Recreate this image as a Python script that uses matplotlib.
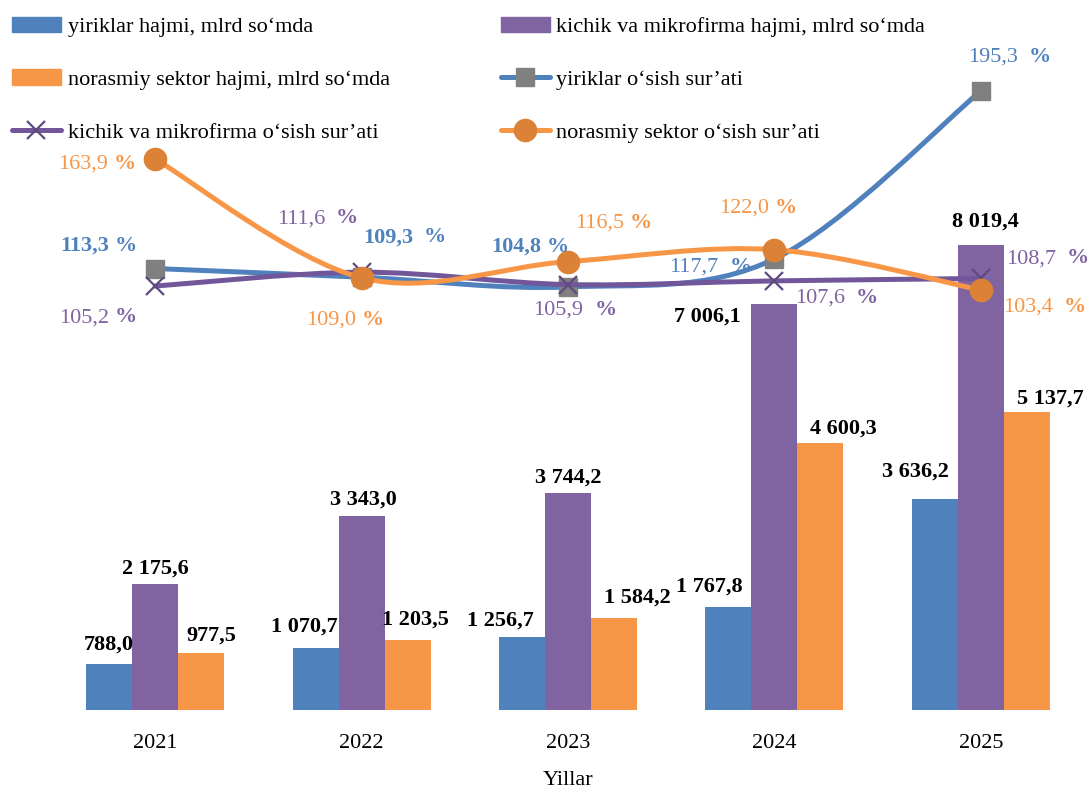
import numpy as np
import matplotlib.pyplot as plt
from matplotlib.path import Path
from matplotlib.patches import PathPatch, Patch
from matplotlib.lines import Line2D
from matplotlib.offsetbox import TextArea, HPacker, AnnotationBbox

plt.rcParams['font.family'] = ['Liberation Serif', 'DejaVu Serif']

years = ['2021', '2022', '2023', '2024', '2025']
large_vol = [788.0, 1070.7, 1256.7, 1767.8, 3636.2]
small_vol = [2175.6, 3343.0, 3744.2, 7006.1, 8019.4]
informal_vol = [977.5, 1203.5, 1584.2, 4600.3, 5137.7]
large_growth = [113.3, 109.3, 104.8, 117.7, 195.3]
small_growth = [105.2, 111.6, 105.9, 107.6, 108.7]
informal_growth = [163.9, 109.0, 116.5, 122.0, 103.4]

BLUE = '#4F81BD'
PURPLE = '#8064A2'
ORANGE = '#F79646'
FS = 16


def fmt(v):
    return f"{v:,.1f}".replace(',', ' ').replace('.', ',')


def smooth_path(xs, ys):
    # Excel-style smoothed line as a bezier path through the data points
    pts = np.column_stack([xs, ys]).astype(float)
    n = len(pts)
    verts = [pts[0]]
    codes = [Path.MOVETO]
    for i in range(n - 1):
        p0 = pts[max(i - 1, 0)]
        p1 = pts[i]
        p2 = pts[i + 1]
        p3 = pts[min(i + 2, n - 1)]
        verts += [p1 + (p2 - p0) / 6, p2 - (p3 - p1) / 6, p2]
        codes += [Path.CURVE4] * 3
    return Path(verts, codes)


fig = plt.figure(figsize=(10.9, 7.94), dpi=100)
ax = fig.add_axes([52 / 1090, 1 - 710 / 794, 1032 / 1090, 695 / 794])
x = np.arange(len(years))
w = 0.223

b1 = ax.bar(x - w, large_vol, w, color=BLUE)
b2 = ax.bar(x, small_vol, w, color=PURPLE)
b3 = ax.bar(x + w, informal_vol, w, color=ORANGE)
ax.set_xlim(-0.5, 4.5)
ax.set_ylim(0, 11986)
ax.set_yticks([])
ax.set_xticks(x, years, fontsize=FS)
ax.tick_params(axis='x', length=0, pad=17)
ax.set_xlabel('Yillar', fontsize=FS, labelpad=13)
for s in ax.spines.values():
    s.set_visible(False)

# bar value labels (offsets in pixels, up positive)
bar_offsets = [
    [(0, 20), (-11, 21), (-22, 17), (-19, 21), (-19, 28)],
    [(0, 15), (2, 17), (0, 15), (-67, -13), (5, 23)],
    [(10, 18), (8, 21), (23, 21), (23, 15), (23, 14)],
]
for k, (bars, vals) in enumerate([(b1, large_vol), (b2, small_vol), (b3, informal_vol)]):
    for j, (rect, v) in enumerate(zip(bars, vals)):
        dx, dy = bar_offsets[k][j]
        ax.annotate(fmt(v), (rect.get_x() + rect.get_width() / 2, v),
                    xytext=(dx, dy), textcoords='offset pixels',
                    ha='center', va='center', fontsize=FS, fontweight='bold',
                    color='black')

ax2 = ax.twinx()
ax2.set_ylim(-90.6, 230.4)
ax2.set_yticks([])
for s in ax2.spines.values():
    s.set_visible(False)
ax2.patch.set_visible(False)

series = [
    (large_growth, BLUE, dict(marker='s', markersize=13, markerfacecolor='#808080',
                              markeredgecolor='#808080')),
    (small_growth, '#71569A', dict(marker='x', markersize=13, markeredgewidth=1.6,
                                   markeredgecolor='#5F4A80')),
    (informal_growth, ORANGE, dict(marker='o', markersize=16, markerfacecolor='#DC8236',
                                   markeredgecolor='#DC8236')),
]
line_handles = []
for z, (vals, col, mk) in enumerate(series):
    ax2.add_patch(PathPatch(smooth_path(x, vals), fill=False, edgecolor=col,
                            lw=3.6, capstyle='round', zorder=3 + z))
    ax2.plot(x, vals, linestyle='none', zorder=3.5 + z, **mk)
    line_handles.append(Line2D([], [], color=col, lw=3.6, solid_capstyle='round', **mk))

# growth labels: (dx, dy, bold number, gap)
line_labels = [
    [(-57, 23, True, 1), (43, 40, True, 2), (-38, 40, True, 1), (-64, -8, False, 2), (29, 34, False, 2)],
    [(-57, -31, False, 1), (-44, 54, False, 2), (7, -25, False, 2), (62, -17, False, 2), (67, 20, False, 2)],
    [(-58, -5, False, 1), (-17, -42, False, 1), (46, 39, False, 1), (-16, 42, False, 1), (64, -17, False, 2)],
]
label_colors = [BLUE, PURPLE, ORANGE]
for k, (vals, _, _) in enumerate(series):
    for j, v in enumerate(vals):
        dx, dy, bold, gap = line_labels[k][j]
        c = label_colors[k]
        num = TextArea(fmt(v), textprops=dict(color=c, fontsize=FS,
                                              fontweight='bold' if bold else 'normal'))
        pct = TextArea('%', textprops=dict(color=c, fontsize=FS, fontweight='bold'))
        box = HPacker(children=[num, pct], align='baseline', pad=0, sep=4 * gap)
        ab = AnnotationBbox(box, (x[j], v), xybox=(dx, dy), boxcoords='offset pixels',
                            frameon=False, box_alignment=(0.5, 0.5), zorder=10)
        ax2.add_artist(ab)

handles = [Patch(color=BLUE), Patch(color=ORANGE), line_handles[1],
           Patch(color=PURPLE), line_handles[0], line_handles[2]]
labels = ['yiriklar hajmi, mlrd so‘mda', 'norasmiy sektor hajmi, mlrd so‘mda',
          'kichik va mikrofirma o‘sish sur’ati', 'kichik va mikrofirma hajmi, mlrd so‘mda',
          'yiriklar o‘sish sur’ati', 'norasmiy sektor o‘sish sur’ati']
fig.legend(handles, labels, ncol=2, loc='upper left', bbox_to_anchor=(0.011, 0.979),
           frameon=False, fontsize=FS, handlelength=2.2, handletextpad=0.3,
           labelspacing=1.45, columnspacing=5.0, borderpad=0, borderaxespad=0)

fig.savefig('out.png', dpi=100)
